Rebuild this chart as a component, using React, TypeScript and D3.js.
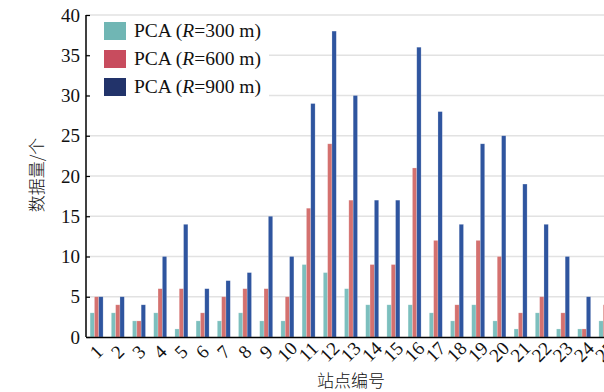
import React, { useRef, useEffect } from "react";
import * as d3 from "d3";

const stations = d3.range(1, 26).map(String);
const seriesNames = ["PCA (R=300 m)", "PCA (R=600 m)", "PCA (R=900 m)"];
const r300 = [3, 3, 2, 3, 1, 2, 2, 3, 2, 2, 9, 8, 6, 4, 4, 4, 3, 2, 4, 2, 1, 3, 1, 1, 2];
const r600 = [5, 4, 2, 6, 6, 3, 5, 6, 6, 5, 16, 24, 17, 9, 9, 21, 12, 4, 12, 10, 3, 5, 3, 1, 4];
const r900 = [5, 5, 4, 10, 14, 6, 7, 8, 15, 10, 29, 38, 30, 17, 17, 36, 28, 14, 24, 25, 19, 14, 10, 5, 8];
const yTicks = [0, 5, 10, 15, 20, 25, 30, 35, 40];
const radii = ["300", "600", "900"];

const barColors = ["#7cbfbe", "#d4716f", "#2f559f"];
const legendColors = ["#70b6b4", "#c84c5e", "#22336a"];

const App = () => {
  const ref = useRef(null);

  useEffect(() => {
    const elt = ref.current;
    if (!elt) return;
    d3.select(elt).selectAll("*").remove();

    const W = 604, H = 392;
    const left = 86, top = 15, bottom = 337;
    const plotW = 21.2 * stations.length;

    const svg = d3.select(elt)
      .append("svg")
      .attr("width", W)
      .attr("height", H)
      .style("position", "absolute")
      .style("left", "0px")
      .style("top", "0px")
      .style("background", "#fff");

    const x0 = d3.scaleBand().domain(stations).range([left, left + plotW]).padding(0);
    const groupW = 13;
    const x1 = d3.scaleBand().domain(["0", "1", "2"]).range([0, groupW]).padding(0);
    const y = d3.scaleLinear().domain([0, 40]).range([bottom, top]);

    // grid
    svg.append("g")
      .selectAll("line")
      .data(yTicks.filter(d => d > 0))
      .enter()
      .append("line")
      .attr("x1", left)
      .attr("x2", W)
      .attr("y1", d => y(d))
      .attr("y2", d => y(d))
      .attr("stroke", "#e2e2e2")
      .attr("stroke-width", 1.5);

    // bars
    const all = [r300, r600, r900];
    all.forEach((vals, si) => {
      svg.append("g")
        .selectAll("rect")
        .data(vals)
        .enter()
        .append("rect")
        .attr("x", (d, i) => x0(stations[i]) + (x0.bandwidth() - groupW) / 2 + x1(String(si)))
        .attr("width", x1.bandwidth())
        .attr("y", d => y(d))
        .attr("height", d => bottom - y(d))
        .attr("fill", barColors[si])
        .attr("stroke", "#ffffff")
        .attr("stroke-opacity", 0.35)
        .attr("stroke-width", 0.6);
    });

    // legend box
    const lg = svg.append("g");
    lg.append("rect")
      .attr("x", 89).attr("y", 18).attr("width", 180).attr("height", 83)
      .attr("fill", "#fff");
    seriesNames.forEach((name, i) => {
      const cy = 31 + i * 28;
      lg.append("rect")
        .attr("x", 104).attr("y", cy - 9).attr("width", 22).attr("height", 18)
        .attr("fill", legendColors[i]);
      const t = lg.append("text")
        .attr("x", 134).attr("y", cy + 6)
        .style("font-family", "'Liberation Serif', 'Times New Roman', serif")
        .style("font-size", "19.5px")
        .attr("fill", "#111");
      t.append("tspan").text("PCA (");
      t.append("tspan").style("font-style", "italic").text("R");
      t.append("tspan").text("=" + radii[i] + " m)");
    });

    // y axis
    const ya = svg.append("g")
      .attr("transform", `translate(${left},0)`)
      .call(d3.axisLeft(y).tickValues(yTicks).tickSize(-4).tickPadding(6));
    ya.select(".domain").attr("stroke", "#000").attr("stroke-width", 1.5).attr("d", `M0,${top}V${bottom}`);
    ya.selectAll(".tick line").attr("stroke", "#000").attr("stroke-width", 1.2);
    ya.selectAll(".tick text")
      .style("font-family", "'Liberation Serif', 'Times New Roman', serif")
      .style("font-size", "19px")
      .attr("fill", "#111");

    // x axis
    const xa = svg.append("g")
      .attr("transform", `translate(0,${bottom})`)
      .call(d3.axisBottom(x0).tickSize(0).tickPadding(0));
    xa.select(".domain").attr("stroke", "#000").attr("stroke-width", 1.5);
    xa.selectAll(".tick text")
      .style("font-family", "'Liberation Serif', 'Times New Roman', serif")
      .style("font-size", "19px")
      .attr("fill", "#111")
      .attr("text-anchor", "middle")
      .attr("dy", "0.32em")
      .attr("y", 0)
      .attr("transform", "translate(0,15) rotate(-45)");

    // titles
    svg.append("text")
      .attr("x", 351).attr("y", 387)
      .attr("text-anchor", "middle")
      .style("font-family", "'Noto Sans CJK SC', sans-serif")
      .style("font-size", "17px")
      .style("font-weight", 300)
      .attr("fill", "#111")
      .text("站点编号");
    svg.append("text")
      .attr("transform", "translate(43,175) rotate(-90)")
      .attr("text-anchor", "middle")
      .style("font-family", "'Noto Sans CJK SC', sans-serif")
      .style("font-size", "17px")
      .style("font-weight", 300)
      .attr("fill", "#111")
      .text("数据量/个");
  }, []);

  return <div ref={ref}></div>;
};

export default App;
